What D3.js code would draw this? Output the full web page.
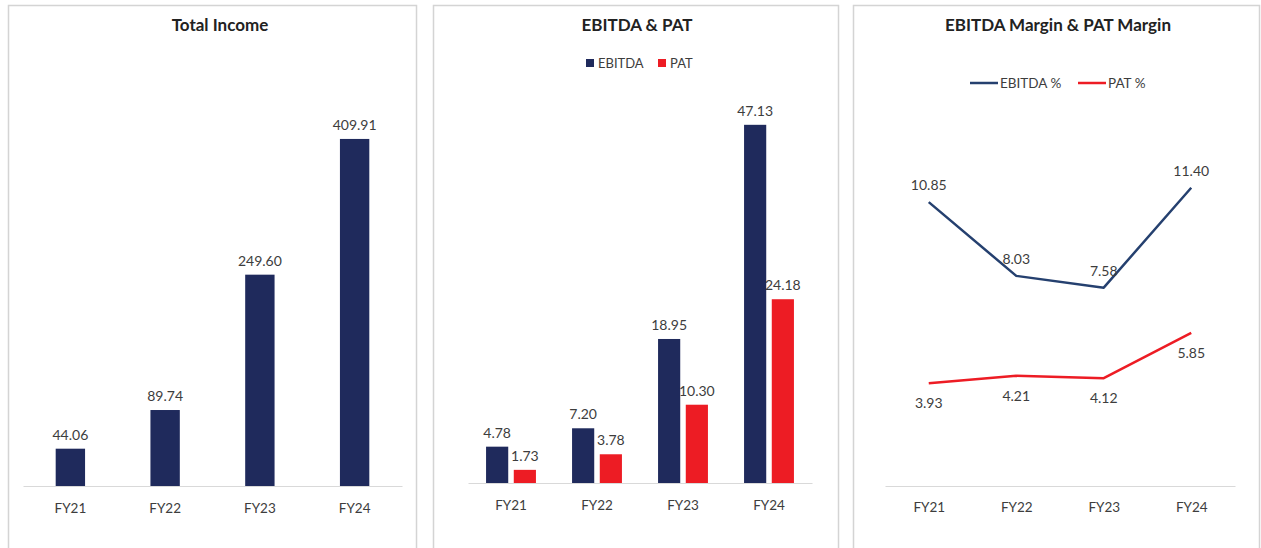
<!DOCTYPE html>
<html>
<head>
<meta charset="utf-8">
<script src="https://cdn.jsdelivr.net/npm/d3@7"></script>
<style>
  body { margin: 0; background: #fff; }
  svg { display: block; font-family: Lato, "Open Sans", sans-serif; }
</style>
</head>
<body>
<script>
var width = 1261;
var height = 548;

// Data.
var years = ['FY21', 'FY22', 'FY23', 'FY24'];
var totalIncome = [44.06, 89.74, 249.60, 409.91];
var ebitda = [4.78, 7.20, 18.95, 47.13];
var pat = [1.73, 3.78, 10.30, 24.18];
var ebitdaPct = [10.85, 8.03, 7.58, 11.40];
var patPct = [3.93, 4.21, 4.12, 5.85];

var navy = '#1f2a5c';
var red = '#ed1c24';
var lineNavy = '#25406f';
var textCol = '#3d3d3d';

var svg = d3.select('body')
  .append('svg')
  .attr('width', width)
  .attr('height', height);

// Panel frames.
var panels = [{x: 8, w: 408}, {x: 433, w: 405}, {x: 853, w: 406}];
svg.selectAll('rect.panel')
  .data(panels)
  .enter().append('rect')
  .attr('class', 'panel')
  .attr('x', function(d) { return d.x + 0.5; })
  .attr('y', 5.5)
  .attr('width', function(d) { return d.w; })
  .attr('height', 560)
  .attr('fill', '#fff')
  .attr('stroke', '#d4d4d4')
  .attr('stroke-width', 1.5);

function title(cx, txt) {
  svg.append('text')
    .attr('x', cx)
    .attr('y', 31)
    .attr('text-anchor', 'middle')
    .attr('font-size', 17)
    .attr('font-weight', 'bold')
    .attr('fill', '#222')
    .text(txt);
}

function xAxis(scale, y, labelY) {
  var g = svg.append('g')
    .attr('transform', 'translate(0,' + y + ')')
    .call(d3.axisBottom(scale).tickSize(0).tickPadding(labelY - y - 10));
  g.select('.domain').attr('stroke', '#d9d9d9').attr('stroke-width', 1.2);
  g.selectAll('text')
    .attr('font-size', 13.5)
    .attr('font-family', 'Lato, "Open Sans", sans-serif')
    .attr('fill', textCol);
}

// ---- Panel 1: Total Income ----
title(220, 'Total Income');
var x1 = d3.scaleBand().domain(years).range([23, 402]).paddingInner(0.69).paddingOuter(0.345);
var y1 = d3.scaleLinear().domain([0, 450]).range([486, 105]);

svg.append('g').selectAll('rect')
  .data(totalIncome)
  .enter().append('rect')
  .attr('x', function(d, i) { return x1(years[i]); })
  .attr('y', function(d) { return y1(d); })
  .attr('width', x1.bandwidth())
  .attr('height', function(d) { return y1(0) - y1(d); })
  .attr('fill', navy);

svg.append('g').selectAll('text')
  .data(totalIncome)
  .enter().append('text')
  .attr('x', function(d, i) { return x1(years[i]) + x1.bandwidth() / 2; })
  .attr('y', function(d) { return y1(d) - 9; })
  .attr('text-anchor', 'middle')
  .attr('font-size', 14)
  .attr('fill', textCol)
  .text(function(d) { return d.toFixed(2); });

xAxis(x1, 486, 513);

// ---- Panel 2: EBITDA & PAT ----
title(637, 'EBITDA & PAT');
var series = [
  {name: 'EBITDA', values: ebitda, color: navy},
  {name: 'PAT', values: pat, color: red}
];
var x2 = d3.scaleBand().domain(years).range([468, 812]).paddingInner(0.42).paddingOuter(0.21);
var x2s = d3.scaleBand().domain(series.map(function(s) { return s.name; }))
  .range([0, x2.bandwidth()]).paddingInner(0.2);
var y2 = d3.scaleLinear().domain([0, 50]).range([483, 103]);

series.forEach(function(s) {
  var g = svg.append('g');
  g.selectAll('rect')
    .data(s.values)
    .enter().append('rect')
    .attr('x', function(d, i) { return x2(years[i]) + x2s(s.name); })
    .attr('y', function(d) { return y2(d); })
    .attr('width', x2s.bandwidth())
    .attr('height', function(d) { return y2(0) - y2(d); })
    .attr('fill', s.color);
  g.selectAll('text')
    .data(s.values)
    .enter().append('text')
    .attr('x', function(d, i) { return x2(years[i]) + x2s(s.name) + x2s.bandwidth() / 2; })
    .attr('y', function(d) { return y2(d) - 9; })
    .attr('text-anchor', 'middle')
    .attr('font-size', 14)
    .attr('fill', textCol)
    .text(function(d) { return d.toFixed(2); });
});

xAxis(x2, 483, 510);

// Legend 2.
var leg2 = svg.append('g').selectAll('g')
  .data(series)
  .enter().append('g')
  .attr('transform', function(d, i) { return 'translate(' + [586, 658][i] + ',63)'; });
leg2.append('rect')
  .attr('x', 0).attr('y', -4)
  .attr('width', 8).attr('height', 8)
  .attr('fill', function(d) { return d.color; });
leg2.append('text')
  .attr('x', 12).attr('y', 4.5)
  .attr('font-size', 13)
  .attr('fill', textCol)
  .text(function(d) { return d.name; });

// ---- Panel 3: EBITDA Margin & PAT Margin ----
title(1058, 'EBITDA Margin & PAT Margin');
var lines = [
  {name: 'EBITDA %', values: ebitdaPct, color: lineNavy, dy: -12},
  {name: 'PAT %', values: patPct, color: red, dy: 25}
];
var x3 = d3.scalePoint().domain(years).range([885, 1235]).padding(0.5);
var y3 = d3.scaleLinear().domain([0, 12]).range([486, 172]);
var line = d3.line()
  .x(function(d, i) { return x3(years[i]); })
  .y(function(d) { return y3(d); });

lines.forEach(function(s) {
  svg.append('path')
    .datum(s.values)
    .attr('d', line)
    .attr('fill', 'none')
    .attr('stroke', s.color)
    .attr('stroke-width', 2.5)
    .attr('stroke-linejoin', 'round');
  svg.append('g').selectAll('text')
    .data(s.values)
    .enter().append('text')
    .attr('x', function(d, i) { return x3(years[i]); })
    .attr('y', function(d) { return y3(d) + s.dy; })
    .attr('text-anchor', 'middle')
    .attr('font-size', 14)
    .attr('fill', textCol)
    .text(function(d) { return d.toFixed(2); });
});

xAxis(x3, 486, 512);

// Legend 3.
var leg3 = svg.append('g').selectAll('g')
  .data(lines)
  .enter().append('g')
  .attr('transform', function(d, i) { return 'translate(' + [970, 1078][i] + ',83)'; });
leg3.append('line')
  .attr('x1', 0).attr('x2', 28)
  .attr('stroke', function(d) { return d.color; })
  .attr('stroke-width', 2.5);
leg3.append('text')
  .attr('x', 30).attr('y', 4.5)
  .attr('font-size', 13.5)
  .attr('fill', textCol)
  .text(function(d) { return d.name; });
</script>
</body>
</html>
